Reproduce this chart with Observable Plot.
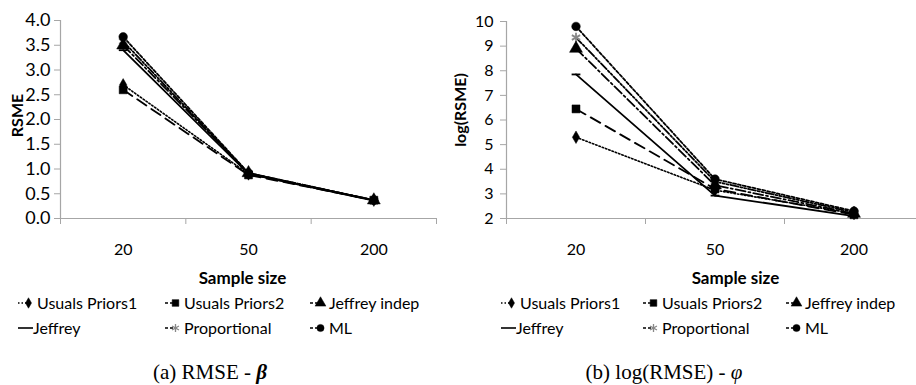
<!DOCTYPE html>
<html><head><meta charset="utf-8">
<script src="https://cdn.jsdelivr.net/npm/d3@7"></script>
<script src="https://cdn.jsdelivr.net/npm/@observablehq/plot@0.6"></script>
<style>
body{margin:0;background:#fff;}
#wrap{position:relative;width:916px;height:385px;overflow:hidden;font-family:Lato,sans-serif;background:#fff;}
.panel{position:absolute;top:0;width:458px;height:385px;}
.panel svg{overflow:visible}
.leg{position:absolute;font-size:16px;line-height:25px;height:25px;white-space:nowrap;display:flex;align-items:center;color:#000;}
.leg svg{margin-right:4px}
.cap{position:absolute;top:357px;text-align:center;font-family:"Liberation Serif",serif;font-size:21px;line-height:30px;}
</style></head><body><div id="wrap"></div>
<script>
// ---- data ----
const sampleSizes = ["20", "50", "200"];
const seriesNames = ["Usuals Priors1", "Usuals Priors2", "Jeffrey indep", "Jeffrey", "Proportional", "ML"];
const betaTicks = [0, 0.5, 1, 1.5, 2, 2.5, 3, 3.5, 4];
const phiTicks = [2, 3, 4, 5, 6, 7, 8, 9, 10];
// (a) RMSE - beta
const betaPriors1 = [2.70, 0.90, 0.37];
const betaPriors2 = [2.60, 0.88, 0.37];
const betaJeffreyIndep = [3.50, 0.92, 0.37];
const betaJeffrey = [3.40, 0.90, 0.36];
const betaProportional = [3.58, 0.91, 0.37];
const betaML = [3.67, 0.92, 0.37];
// (b) log(RMSE) - phi
const phiPriors1 = [5.30, 3.15, 2.20];
const phiPriors2 = [6.45, 3.20, 2.15];
const phiJeffreyIndep = [8.90, 3.35, 2.20];
const phiJeffrey = [7.85, 2.93, 2.10];
const phiProportional = [9.35, 3.50, 2.25];
const phiML = [9.80, 3.60, 2.30];

// ---- styles ----
const dashSymbol = {draw(ctx, size) { const w = Math.sqrt(size) * 0.55; ctx.moveTo(-w, 0); ctx.lineTo(w, 0); }};
const styles = [
  {dash: "1.5,2", symbol: "diamond", r: 3.8, fill: "black", mstroke: "black", width: 1.6},
  {dash: "11,6", symbol: "square", r: 4.5, fill: "black", mstroke: "black", width: 1.8},
  {dash: "10,3,2,3", symbol: "triangle", r: 4.8, fill: "black", mstroke: "black", width: 1.8},
  {dash: null, symbol: dashSymbol, r: 4.5, fill: "none", mstroke: "black", width: 1.8},
  {dash: "8,2,2,2,2,2", symbol: "asterisk", r: 4.5, fill: "none", mstroke: "#888", width: 1.8},
  {dash: "3,2", symbol: "circle", r: 4.3, fill: "black", mstroke: "black", width: 1.8}
];
const dotOrder = [4, 3, 0, 2, 5, 1];

function rows(valueArrays) {
  return valueArrays.map((vals, k) => vals.map((v, i) => ({series: seriesNames[k], k, i, v}))).flat();
}

function makePlot({data, yDomain, yTicks, yFmt, yFont, xRange, marginLeft, marginRight, marginTop, yLabel, yLabelDx, yLabelDy, sampleDx, yPad}) {
  const marks = [];
  marks.push(Plot.ruleY([yDomain[0]], {stroke: "#a6a6a6", strokeWidth: 1.2}));
  marks.push(Plot.ruleX([-0.5], {stroke: "#a6a6a6", strokeWidth: 1.2}));
  marks.push(Plot.axisY({ticks: yTicks, tickSize: 6, tickFormat: () => "", stroke: "#a6a6a6", label: null}));
  marks.push(Plot.axisY({ticks: yTicks, tickSize: 0, tickPadding: yPad, tickFormat: yFmt, fontSize: yFont, fill: "black", label: null}));
  marks.push(Plot.axisX({ticks: [-0.5, 0.5, 1.5, 2.5], tickSize: 6, tickFormat: () => "", stroke: "#a6a6a6", label: null}));
  marks.push(Plot.axisX({ticks: [0, 1, 2], tickSize: 0, tickPadding: 25, tickFormat: i => sampleSizes[i], fontSize: 16, fill: "black", label: null}));
  styles.forEach((s, k) => {
    marks.push(Plot.line(data.filter(d => d.k === k), {x: "i", y: "v", stroke: "black", strokeWidth: s.width, strokeDasharray: s.dash || undefined}));
  });
  dotOrder.forEach(k => {
    const s = styles[k];
    marks.push(Plot.dot(data.filter(d => d.k === k), {x: "i", y: "v", symbol: () => s.symbol, r: s.r, fill: s.fill, stroke: s.mstroke, strokeWidth: s.fill === "none" ? 1.8 : 0.5}));
  });
  marks.push(Plot.text([yLabel], {frameAnchor: "left", dx: yLabelDx, dy: yLabelDy, rotate: -90, textAnchor: "middle", lineAnchor: "middle", fontWeight: "bold", fontSize: 16}));
  marks.push(Plot.text(["Sample size"], {frameAnchor: "bottom", dx: sampleDx, dy: 60, textAnchor: "middle", lineAnchor: "middle", fontWeight: "bold", fontSize: 17}));
  return Plot.plot({
    width: 458, height: 290,
    marginLeft, marginRight, marginTop, marginBottom: 72,
    x: {domain: [-0.5, 2.5], range: xRange},
    y: {domain: yDomain},
    style: {fontFamily: "Lato, sans-serif", fontSize: "16px", color: "black", background: "white", overflow: "visible"},
    marks
  });
}

function swatch(s) {
  const ns = "http://www.w3.org/2000/svg";
  const svg = document.createElementNS(ns, "svg");
  svg.setAttribute("width", 15); svg.setAttribute("height", 14);
  const line = document.createElementNS(ns, "line");
  line.setAttribute("x1", 0); line.setAttribute("x2", s.symbol === dashSymbol ? 15 : 10);
  line.setAttribute("y1", 7); line.setAttribute("y2", 7);
  line.setAttribute("stroke", "black"); line.setAttribute("stroke-width", 1.6);
  if (s.dash) line.setAttribute("stroke-dasharray", s.dash === "1.5,2" ? "1.5,2" : "3,2");
  svg.appendChild(line);
  if (s.symbol !== dashSymbol) {
    const symMap = {diamond: d3.symbolDiamond, square: d3.symbolSquare, triangle: d3.symbolTriangle, asterisk: d3.symbolAsterisk, circle: d3.symbolCircle};
    const p = document.createElementNS(ns, "path");
    p.setAttribute("d", d3.symbol(symMap[s.symbol], Math.PI * s.r * s.r * 0.7)());
    p.setAttribute("transform", "translate(10.5,7)");
    p.setAttribute("fill", s.fill); p.setAttribute("stroke", s.mstroke);
    p.setAttribute("stroke-width", s.fill === "none" ? 1.3 : 0.5);
    svg.appendChild(p);
  }
  return svg;
}

function buildPanel(left, plot, legCols, captionHTML, capLeft, capWidth) {
  const panel = document.createElement("div");
  panel.className = "panel"; panel.style.left = left + "px";
  panel.appendChild(plot);
  seriesNames.forEach((name, k) => {
    const row = Math.floor(k / 3), col = k % 3;
    const d = document.createElement("div");
    d.className = "leg";
    d.style.left = legCols[col] + "px";
    d.style.top = (290 + row * 25) + "px";
    const sw = swatch(styles[k]);
    if (styles[k].symbol === dashSymbol) sw.style.marginRight = "0px";
    d.appendChild(sw);
    const t = document.createElement("span"); t.textContent = name;
    d.appendChild(t);
    panel.appendChild(d);
  });
  const cap = document.createElement("div");
  cap.className = "cap"; cap.style.left = capLeft + "px"; cap.style.width = capWidth + "px";
  cap.innerHTML = captionHTML;
  panel.appendChild(cap);
  document.getElementById("wrap").appendChild(panel);
}

const plotA = makePlot({
  data: rows([betaPriors1, betaPriors2, betaJeffreyIndep, betaJeffrey, betaProportional, betaML]),
  yDomain: [0, 4], yTicks: betaTicks, yFmt: d3.format(".1f"), yFont: 18, yPad: 10,
  xRange: [60, 436], marginLeft: 60, marginRight: 22, marginTop: 20,
  yLabel: "RSME", yLabelDx: -43, yLabelDy: -4, sampleDx: -6
});
const plotB = makePlot({
  data: rows([phiPriors1, phiPriors2, phiJeffreyIndep, phiJeffrey, phiProportional, phiML]),
  yDomain: [2, 10], yTicks: phiTicks, yFmt: d3.format("d"), yFont: 16, yPad: 13,
  xRange: [48, 465], marginLeft: 48, marginRight: 0, marginTop: 21,
  yLabel: "log(RSME)", yLabelDx: -46, yLabelDy: -10, sampleDx: 24
});
buildPanel(0, plotA, [18, 165, 310], '(a) RMSE - <b><i>β</i></b>', 0, 420);
buildPanel(458, plotB, [43, 185, 328], '(b) log(RMSE) - <i>φ</i>', 0, 412);
</script></body></html>
